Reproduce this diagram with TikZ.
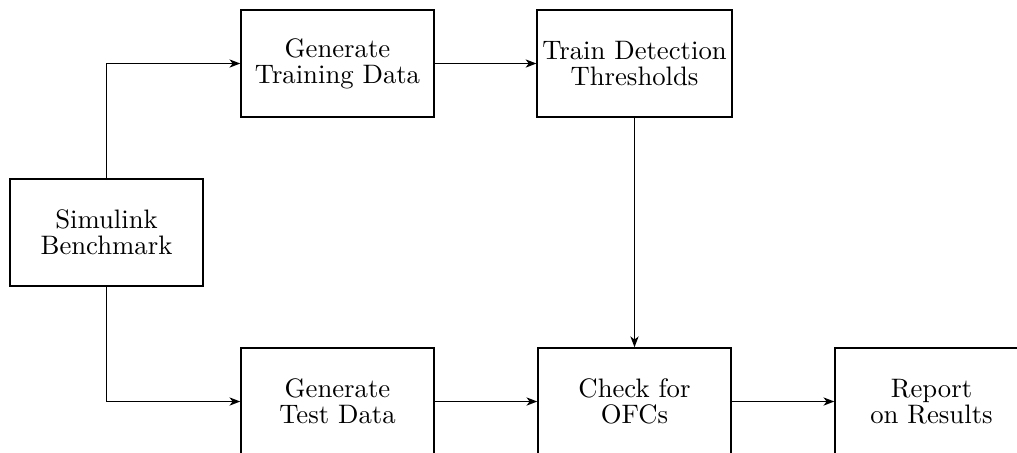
\documentclass[tikz,border=0pt]{standalone}
\usetikzlibrary{arrows.meta}
\begin{document}
\begin{tikzpicture}[x=0.3913pt,y=-0.3913pt,
  blk/.style={draw,line width=0.6pt,minimum width=75.5pt,minimum height=41.9pt,align=center,inner sep=2pt,font=\fontsize{10.45pt}{10.3pt}\selectfont},
  conn/.style={line width=0.6pt,-{Stealth[length=4.2pt,width=3.2pt,inset=1.2pt]}}]
\useasboundingbox (0,0) rectangle (1017,452);
\clip (0,0) rectangle (1017,452);
\node[blk] (sim) at (106.5,232.5) {Simulink\\Benchmark};
\node[blk] (gtrain) at (337.5,63.5) {Generate\\Training Data};
\node[blk] (thr) at (634.5,63.5) {Train Detection\\Thresholds};
\node[blk] (gtest) at (337.5,401.5) {Generate\\Test Data};
\node[blk] (check) at (634.5,401.5) {Check for\\OFCs};
\node[blk] (report) at (931.5,401.5) {Report\\on Results};
\draw[conn] (sim.north) |- (gtrain.west);
\draw[conn] (sim.south) |- (gtest.west);
\draw[conn] (gtrain) -- (thr);
\draw[conn] (thr) -- (check);
\draw[conn] (gtest) -- (check);
\draw[conn] (check) -- (report);
\end{tikzpicture}
\end{document}
